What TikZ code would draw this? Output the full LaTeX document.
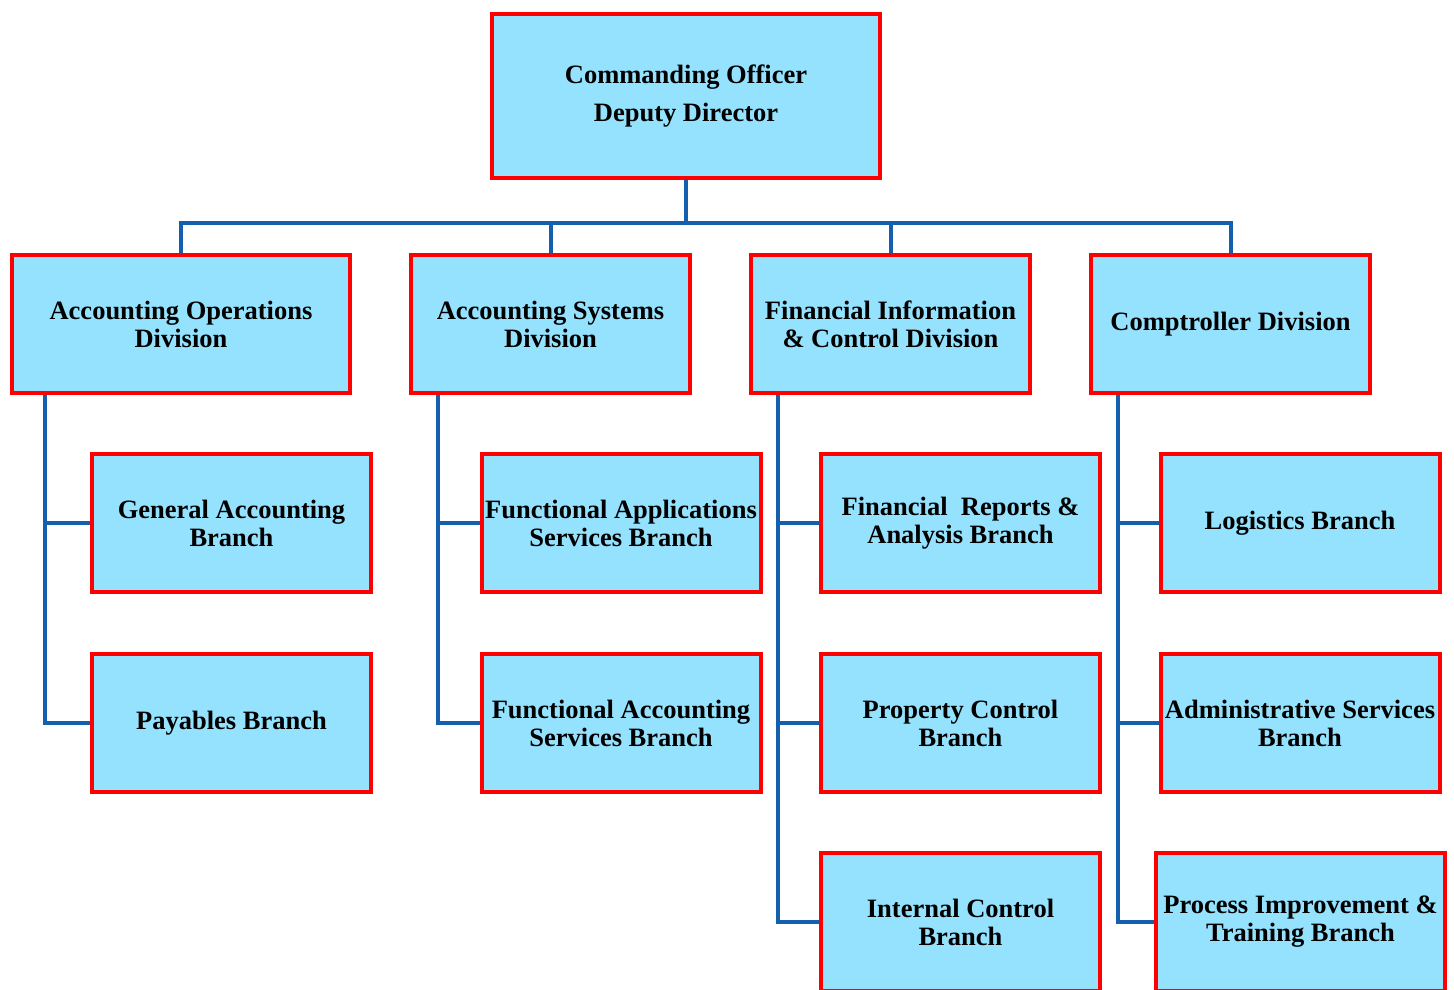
\documentclass[tikz,border=0pt]{standalone}
\usepackage{fontspec}
\setmainfont{Liberation Serif}

\definecolor{boxfill}{RGB}{148,226,253}
\definecolor{boxline}{RGB}{255,0,0}
\definecolor{linkblue}{RGB}{20,96,172}

\tikzset{
  unit/.style={draw=boxline, fill=boxfill, line width=4pt, inner sep=0pt,
    align=center, minimum width=279pt, minimum height=138pt,
    font=\fontsize{26.5}{28}\selectfont\bfseries},
  link/.style={draw=linkblue, line width=4pt},
}

\begin{document}
\begin{tikzpicture}[x=1pt,y=-1pt]
    \useasboundingbox (0,0) rectangle (1454,989);

    % Draw the head box
    \node[unit, minimum width=388pt, minimum height=164pt] (head) at (686,96) {Commanding Officer\\[10pt]Deputy Director};

    % Draw the divisions
    \node[unit, minimum width=338pt] (aod) at (181,324) {Accounting Operations\\Division};
    \node[unit] (asd) at (550.5,324) {Accounting Systems\\Division};
    \node[unit] (fic) at (890.5,324) {Financial Information\\\& Control Division};
    \node[unit] (cd) at (1230.5,324) {Comptroller Division};

    % Draw the branches
    \node[unit] (gab) at (231.5,523) {General Accounting\\Branch};
    \node[unit] (pay) at (231.5,723) {Payables Branch};
    \node[unit] (fas) at (621,523) {Functional Applications\\Services Branch};
    \node[unit] (facs) at (621,723) {Functional Accounting\\Services Branch};
    \node[unit] (fra) at (960.5,523) {Financial\ \ Reports \&\\Analysis Branch};
    \node[unit] (pcb) at (960.5,723) {Property Control\\Branch};
    \node[unit] (icb) at (960.5,922) {Internal Control\\Branch};
    \node[unit] (lb) at (1300,523) {Logistics Branch};
    \node[unit] (asb) at (1300,723) {Administrative Services\\Branch};
    \node[unit, minimum width=289pt] (pit) at (1300.5,922) {Process Improvement \&\\Training Branch};

    % Connect head to divisions
    \coordinate (bus) at (686,223);
    \draw[link] (aod.north) -- (bus -| aod.north) -- (bus -| cd.north) -- (cd.north);
    \draw[link] (head.south) -- (bus);
    \draw[link] (bus -| asd.north) -- (asd.north);
    \draw[link] (bus -| fic.north) -- (fic.north);

    % Connect divisions to branches
    \foreach \d/\s/\b in {aod/45/gab, aod/45/pay, asd/438/fas, asd/438/facs,
        fic/778/fra, fic/778/pcb, fic/778/icb, cd/1118/lb, cd/1118/asb, cd/1118/pit}
        \draw[link] (\d.south -| \s,0) |- (\b.west);
\end{tikzpicture}
\end{document}
